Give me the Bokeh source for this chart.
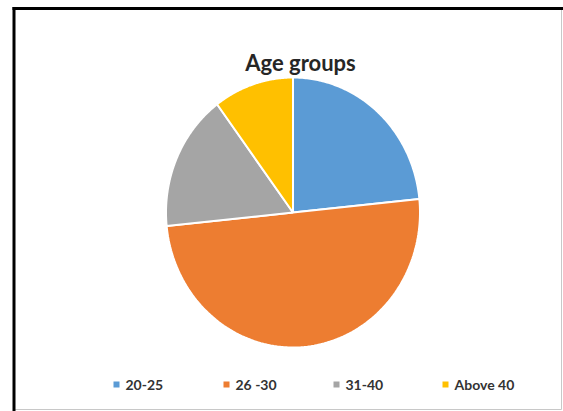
import numpy as np
from bokeh.plotting import figure
from bokeh.models import Range1d
from bokeh.core.properties import value
from bokeh.embed import file_html
from bokeh.resources import INLINE

categories = ["20-25", "26 -30", "31-40", "Above 40"]
shares = [23.4, 50.0, 16.4, 10.2]
colors = ["#5B9BD5", "#ED7D31", "#A5A5A5", "#FFC000"]
title = "Age groups"

W, H = 563, 411
p = figure(width=W, height=H, output_backend="svg", toolbar_location=None,
           x_range=Range1d(0, W), y_range=Range1d(H, 0), min_border=0)
p.axis.visible = False
p.grid.visible = False
p.outline_line_color = None
p.background_fill_color = "white"
p.border_fill_color = "white"

# frame (thin grey right/bottom, thick black left/top)
p.segment(x0=[561, 13], y0=[8, 409], x1=[561, 561], y1=[409, 409],
          line_color="#c8c8c8", line_width=1)
p.segment(x0=[13.5, 12], y0=[6.5, 8], x1=[13.5, W], y1=[H, 8],
          line_color="black", line_width=3)

# pie (slightly elliptical like the reference)
cx, cy, rx, ry = 292.5, 212.0, 127.0, 135.0
total = float(sum(shares))
ends = 90 - 360 * np.cumsum(shares) / total
starts = np.concatenate([[90.0], ends[:-1]])
xs, ys = [], []
for a0, a1 in zip(starts, ends):
    t = np.radians(np.linspace(a0, a1, 120))
    xs.append(np.concatenate([[cx], cx + rx * np.cos(t)]).tolist())
    ys.append(np.concatenate([[cy], cy - ry * np.sin(t)]).tolist())
p.patches(xs, ys, fill_color=colors, line_color="white", line_width=2)

# title
p.text(x=[300], y=[62], text=[title], text_font=value("Lato"), text_font_style="bold",
       text_font_size="22px", text_color="#262626", text_align="center",
       text_baseline="alphabetic")

# legend
leg_x = [116, 226, 336, 445]
leg_y = 384
p.scatter(x=leg_x, y=[leg_y] * 4, marker="square", size=6, fill_color=colors, line_color=None)
p.text(x=[x + 9 for x in leg_x], y=[leg_y] * 4, text=categories, text_font=value("Lato"),
       text_font_style="bold", text_font_size="14px", text_color="#333333",
       text_baseline="middle", text_align="left")

open("out.html", "w").write(file_html(p, INLINE))
